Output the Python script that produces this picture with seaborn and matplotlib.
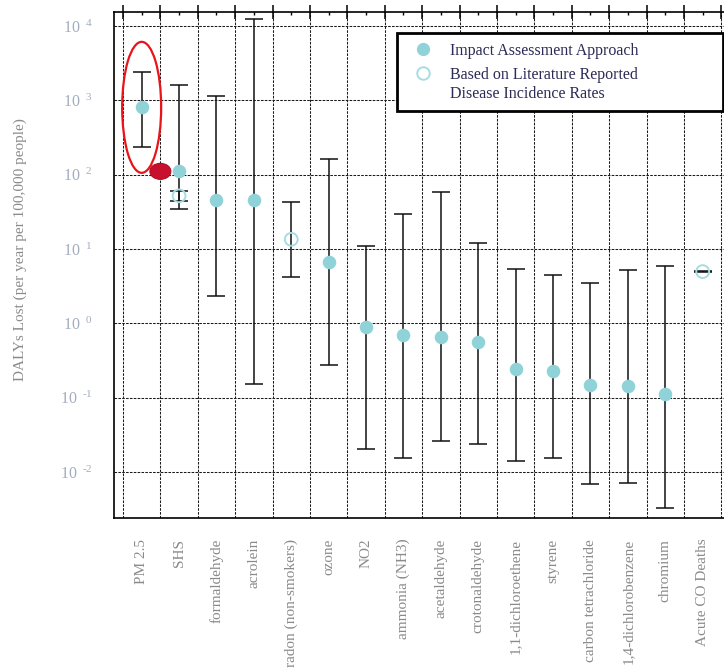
import matplotlib
matplotlib.use("Agg")

import matplotlib.pyplot as plt
import numpy as np
import pandas as pd
import seaborn as sns
from matplotlib.lines import Line2D
from matplotlib.patches import Ellipse
from matplotlib.transforms import IdentityTransform


pollutants = [
    "PM 2.5", "SHS", "formaldehyde", "acrolein", "radon (non-smokers)", "ozone",
    "NO2", "ammonia (NH3)", "acetaldehyde", "crotonaldehyde", "1,1-dichloroethene",
    "styrene", "carbon tetrachloride", "1,4-dichlorobenzene", "chromium", "Acute CO Deaths",
]

# impact assessment approach (filled markers)
impact_names = [
    "PM 2.5", "SHS", "formaldehyde", "acrolein", "ozone", "NO2", "ammonia (NH3)",
    "acetaldehyde", "crotonaldehyde", "1,1-dichloroethene", "styrene",
    "carbon tetrachloride", "1,4-dichlorobenzene", "chromium",
]
impact_value = [807, 111, 45, 45, 6.7, 0.88, 0.70, 0.65, 0.555, 0.245, 0.231, 0.148, 0.145, 0.111]
impact_low = [234, 35, 2.36, 0.152, 0.272, 0.0201, 0.0154, 0.0263, 0.024, 0.0142, 0.0154, 0.0068, 0.0072, 0.00327]
impact_high = [2390, 1590, 1135, 12300, 161, 10.9, 30, 58, 11.9, 5.4, 4.43, 3.49, 5.2, 5.98]

# literature reported disease incidence rates (hollow markers)
lit_names = ["SHS", "radon (non-smokers)", "Acute CO Deaths"]
lit_value = [52, 13.5, 4.97]
lit_low = [44, 4.16, 4.85]
lit_high = [60, 42.5, 5.1]

TEAL = "#8fd3d9"
TEAL_EDGE = "#a6dde2"
TICK_BLUE = "#a2adbf"
LABEL_GRAY = "#8a8a8a"

impact = pd.DataFrame({"pollutant": impact_names, "value": impact_value, "low": impact_low, "high": impact_high})
lit = pd.DataFrame({"pollutant": lit_names, "value": lit_value, "low": lit_low, "high": lit_high})
for df in (impact, lit):
    df["pos"] = df["pollutant"].map({p: i for i, p in enumerate(pollutants)})

sns.set_style("white")
plt.rcParams["font.family"] = ["Liberation Serif", "DejaVu Serif"]
plt.rcParams["mathtext.fontset"] = "custom"
plt.rcParams["mathtext.rm"] = "Liberation Serif"

fig = plt.figure(figsize=(7.24, 6.71), dpi=100)
ax = fig.add_axes([114 / 724, 153 / 671, 610 / 724, 506 / 671])

for df in (impact, lit):
    ax.errorbar(
        df["pos"], df["value"],
        yerr=[df["value"] - df["low"], df["high"] - df["value"]],
        fmt="none", ecolor="#111111", elinewidth=1.1, capsize=6.5, capthick=1.1, zorder=2,
    )

sns.scatterplot(data=impact, x="pos", y="value", color=TEAL, s=95, linewidth=0, zorder=3, ax=ax)
sns.scatterplot(data=lit, x="pos", y="value", facecolor="none", edgecolor=TEAL_EDGE,
                s=85, linewidth=1.4, zorder=3, ax=ax)

ax.set_yscale("log")
ax.set_ylim(10 ** -2.62, 10 ** 4.19)
ax.set_xlim(-0.74, 15.57)

# y axis: decades only, exponent written with a plain hyphen and a small gap
decades = np.arange(-2, 5)
ax.set_yticks([10.0 ** d for d in decades])
ax.set_yticklabels(
    [r"$\mathregular{10^{\;\;%s}}$" % (("\u2010%d" % -d) if d < 0 else d) for d in decades],
    color=TICK_BLUE, fontsize=11.5,
)
ax.yaxis.set_minor_locator(matplotlib.ticker.NullLocator())
ax.tick_params(axis="y", which="major", direction="out", length=6.5, width=1.1, pad=9, color="black")

# x axis: grid at the gaps, labels at the categories
ax.set_xticks(np.arange(-0.5, len(pollutants), 1))
ax.set_xticklabels([])
ax.set_xticks(np.arange(len(pollutants)), minor=True)
ax.set_xticklabels(pollutants, minor=True, rotation=90, color=LABEL_GRAY, fontsize=11)
ax.tick_params(axis="x", which="major", direction="inout", length=10, width=1.1, top=True, color="black")
ax.tick_params(axis="x", which="minor", direction="in", length=2.5, width=1, top=True, pad=15, color="black")

ax.set_xlabel("")
ax.set_ylabel("")
fig.text(20 / 724, 1 - 250 / 671, "DALYs Lost (per year per 100,000 people)", rotation=90,
         ha="center", va="center", color=LABEL_GRAY, fontsize=11)

ax.grid(True, which="major", axis="both", color="#1a1a1a", linestyle=(0, (2.5, 1.2)), linewidth=0.75)
ax.set_axisbelow(True)
for side in ("left", "bottom", "top"):
    ax.spines[side].set_color("black")
    ax.spines[side].set_linewidth(1.2)
ax.spines["right"].set_visible(False)

handles = [
    Line2D([], [], marker="o", linestyle="none", markersize=9.5, markerfacecolor=TEAL, markeredgewidth=0),
    Line2D([], [], marker="o", linestyle="none", markersize=9, markerfacecolor="none",
           markeredgecolor=TEAL_EDGE, markeredgewidth=1.4),
]
leg = ax.legend(
    handles, ["Impact Assessment Approach", "Based on Literature Reported\nDisease Incidence Rates"],
    loc="upper left", bbox_to_anchor=(0.464, 0.9585, 0.534, 0.0), mode="expand",
    frameon=True, fancybox=False, framealpha=1, edgecolor="black", fontsize=11.5,
    borderpad=0.6, labelspacing=0.5, handletextpad=0.6, handlelength=2.1, borderaxespad=0,
)
leg.get_frame().set_linewidth(2)
for t in leg.get_texts():
    t.set_color("#2b2b55")
    t.set_linespacing(1.25)
# second marker sits level with the first line of its label
second = leg.legend_handles[1]
second.set_ydata(np.asarray(second.get_ydata(), dtype=float) + 8.5)

# red highlight marks around PM 2.5
fig.canvas.draw()
cx, cy = ax.transData.transform((0, impact_value[0]))
ax.add_patch(Ellipse((cx, cy), 39, 131, transform=IdentityTransform(), fill=False,
                     edgecolor="#e8141a", linewidth=1.6, zorder=5, clip_on=False))
dx, dy = ax.transData.transform((0.5, impact_value[1]))
ax.add_patch(Ellipse((dx, dy), 21, 16, transform=IdentityTransform(), facecolor="#c8102e",
                     edgecolor="#b00d26", linewidth=0.8, zorder=5, clip_on=False))

fig.savefig("out.png", dpi=100)
